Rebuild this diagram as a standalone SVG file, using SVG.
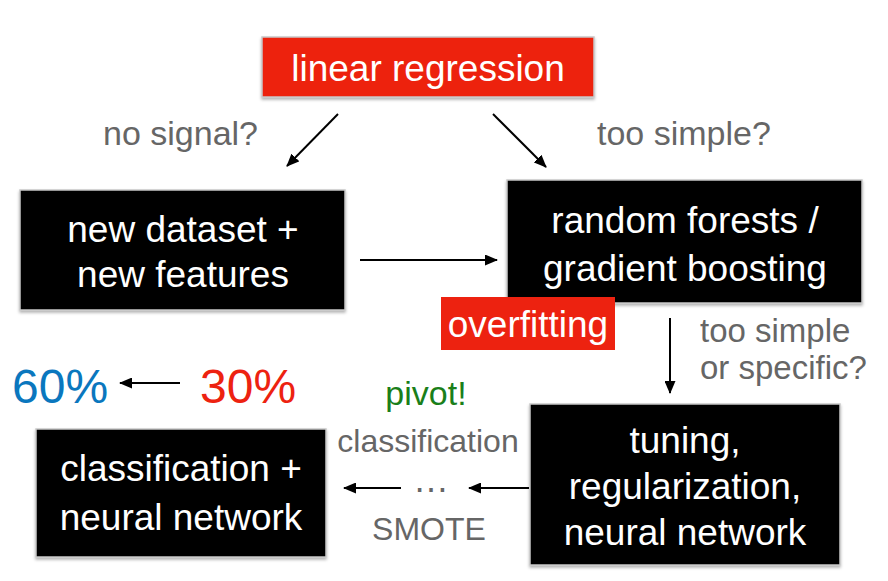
<svg xmlns="http://www.w3.org/2000/svg" width="888" height="581" viewBox="0 0 888 581">
<defs>
<filter id="sh" x="-5%" y="-5%" width="110%" height="120%">
<feDropShadow dx="0" dy="2" stdDeviation="1.5" flood-color="#000" flood-opacity="0.3"/>
</filter>
<marker id="ah" viewBox="0 0 13 11" refX="12" refY="5.5" markerWidth="13" markerHeight="11" markerUnits="userSpaceOnUse" orient="auto">
<path d="M0,0 L13,5.5 L0,11 Z" fill="#000"/>
</marker>
</defs>
<style>
text{font-family:"Liberation Sans",Arial,Helvetica,sans-serif;}
.box{stroke:#c8c8c8;stroke-width:1.5;filter:url(#sh);}
.blk{fill:#000;}
.red{fill:#ED2210;}
.wt{fill:#fff;font-size:37px;text-anchor:middle;}
.gl{fill:#666;}
.conn line{stroke:#000;stroke-width:2;marker-end:url(#ah);}
</style>
<rect width="888" height="581" fill="#fff"/>

<g id="linear-regression">
<rect class="box red" x="262" y="37" width="332" height="60"/>
<text class="wt" x="428" y="81">linear regression</text>
</g>

<g id="new-dataset">
<rect class="box blk" x="20" y="190" width="325" height="120"/>
<text class="wt" x="183" y="242">new dataset +</text>
<text class="wt" x="183" y="287">new features</text>
</g>

<g id="random-forests">
<rect class="box blk" x="507" y="180" width="355" height="123"/>
<text class="wt" x="685" y="233">random forests /</text>
<text class="wt" x="685" y="281">gradient boosting</text>
</g>

<g id="overfitting">
<rect class="red" x="441" y="297" width="174" height="53"/>
<text class="wt" x="528" y="337">overfitting</text>
</g>

<g id="tuning">
<rect class="box blk" x="530" y="404" width="310" height="161"/>
<text class="wt" x="685" y="453">tuning,</text>
<text class="wt" x="685" y="499">regularization,</text>
<text class="wt" x="685" y="545">neural network</text>
</g>

<g id="classification-nn">
<rect class="box blk" x="36" y="429" width="290" height="128"/>
<text class="wt" x="181" y="481">classification +</text>
<text class="wt" x="181" y="530">neural network</text>
</g>

<g id="labels">
<text class="gl" x="103" y="145" font-size="34">no signal?</text>
<text class="gl" x="597" y="145" font-size="34">too simple?</text>
<text class="gl" x="700" y="342" font-size="33">too simple</text>
<text class="gl" x="700" y="379" font-size="33">or specific?</text>
<text x="12" y="403" font-size="48" fill="#0A77BE">60%</text>
<text x="200" y="403" font-size="48" fill="#ED2210">30%</text>
<text x="426" y="405" font-size="34" fill="#1A7F1A" text-anchor="middle">pivot!</text>
<text class="gl" x="428" y="452" font-size="32" text-anchor="middle">classification</text>
<text x="431" y="492" font-size="36" fill="#666" text-anchor="middle">…</text>
<text class="gl" x="429" y="540" font-size="32" text-anchor="middle">SMOTE</text>
</g>

<g id="connectors" class="conn">
<line x1="338" y1="114" x2="287" y2="166"/>
<line x1="493" y1="114" x2="546" y2="167"/>
<line x1="360" y1="260" x2="497" y2="260"/>
<line x1="670" y1="318" x2="670" y2="393"/>
<line x1="180" y1="383" x2="120" y2="383"/>
<line x1="529" y1="488" x2="469" y2="488"/>
<line x1="401" y1="488" x2="344" y2="488"/>
</g>
</svg>
